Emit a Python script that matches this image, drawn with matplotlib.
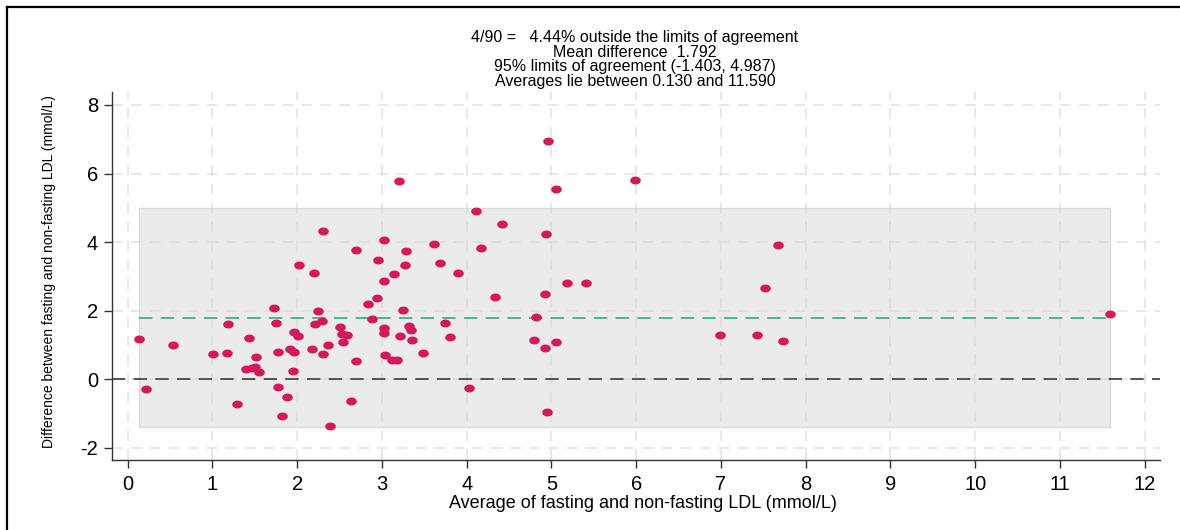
import numpy as np
import matplotlib
matplotlib.use('Agg')
import matplotlib.pyplot as plt
from matplotlib.path import Path
from matplotlib.lines import Line2D
from matplotlib.patches import Rectangle

# Bland-Altman data: average and difference of fasting / non-fasting LDL (mmol/L)
avg_ldl = [0.13, 0.22, 0.53, 1.01, 1.17, 1.18, 1.29, 1.43, 1.51, 1.40,
           1.47, 1.50, 1.55, 1.73, 1.75, 1.77, 1.77, 1.88, 1.82, 2.02,
           2.20, 2.25, 2.21, 2.29, 1.96, 2.01, 1.92, 1.96, 1.95, 2.17,
           2.30, 2.37, 2.51, 2.53, 2.59, 2.54, 2.39, 2.63, 3.20, 2.31,
           3.02, 2.69, 3.29, 3.61, 2.96, 3.27, 3.68, 3.14, 3.02, 2.94,
           2.84, 3.25, 2.88, 3.74, 3.02, 3.02, 3.32, 3.34, 3.21, 3.35,
           3.80, 3.48, 3.04, 3.12, 3.18, 2.69, 4.96, 5.99, 5.06, 4.11,
           4.42, 4.94, 4.17, 3.90, 5.18, 5.41, 4.34, 4.93, 4.82, 4.79,
           4.93, 5.06, 4.03, 4.95, 7.67, 7.52, 6.99, 7.43, 7.73, 11.59]
diff_ldl = [1.17, -0.28, 1.00, 0.74, 0.76, 1.60, -0.72, 1.20, 0.66, 0.31,
            0.32, 0.35, 0.21, 2.08, 1.65, 0.78, -0.22, -0.53, -1.07, 3.32,
            3.09, 1.99, 1.60, 1.71, 1.38, 1.27, 0.88, 0.80, 0.24, 0.88,
            0.73, 0.99, 1.52, 1.31, 1.29, 1.09, -1.37, -0.63, 5.79, 4.32,
            4.07, 3.77, 3.74, 3.95, 3.48, 3.33, 3.39, 3.08, 2.87, 2.38,
            2.19, 2.01, 1.76, 1.65, 1.49, 1.36, 1.54, 1.42, 1.26, 1.15,
            1.22, 0.77, 0.70, 0.56, 0.56, 0.54, 6.96, 5.80, 5.55, 4.91,
            4.53, 4.24, 3.83, 3.11, 2.80, 2.81, 2.41, 2.49, 1.82, 1.15,
            0.92, 1.08, -0.25, -0.95, 3.90, 2.66, 1.30, 1.30, 1.11, 1.89]

mean_diff = 1.792
loa_low, loa_high = -1.403, 4.987
avg_min, avg_max = 0.130, 11.590
n_outside, n_total = 4, 90

x_ticks = list(range(0, 13))
y_ticks = [-2, 0, 2, 4, 6, 8]

title_lines = [
    f"{n_outside}/{n_total} =   {100 * n_outside / n_total:.2f}% outside the limits of agreement",
    f"Mean difference  {mean_diff:.3f}",
    f"95% limits of agreement ({loa_low:.3f}, {loa_high:.3f})",
    f"Averages lie between {avg_min:.3f} and {avg_max:.3f}",
]

plt.rcParams['font.family'] = ['Liberation Sans', 'DejaVu Sans']
plt.rcParams['axes.unicode_minus'] = False

fig = plt.figure(figsize=(11.8, 5.3), dpi=100)
ax = fig.add_axes([112 / 1180, 70 / 530, 1048 / 1180, 367.7 / 530])

# slightly flattened dots, like the stretched Stata export
t = np.linspace(0, 2 * np.pi, 60)
dot = Path(np.column_stack([np.cos(t), 0.75 * np.sin(t)]))

# shaded limits-of-agreement box spanning the observed averages
ax.add_patch(Rectangle((avg_min, loa_low), avg_max - avg_min, loa_high - loa_low,
                       facecolor='#ebebeb', edgecolor='#dadada', lw=1, zorder=0.2))

ax.grid(True, color='#d6d6d6', alpha=0.6, lw=1.3, linestyle=(0, (6, 4.5)))
ax.set_axisbelow(True)

ax.axhline(0, color='#3a3a3a', lw=1.2, dashes=(8, 5), zorder=2)
ax.plot([avg_min, avg_max], [mean_diff, mean_diff], color='#26b084', lw=1.2,
        dashes=(8, 5), zorder=2)

ax.scatter(avg_ldl, diff_ldl, marker=dot, s=58, color='#d6175c', lw=0, zorder=3)

ax.set_xlim(-0.184, 12.18)
ax.set_ylim(-2.36, 8.37)
ax.set_xticks(x_ticks)
ax.set_yticks(y_ticks)
ax.tick_params(axis='both', labelsize=14.5, length=6, width=1, color='#333333')
ax.tick_params(axis='x', pad=5)
ax.tick_params(axis='y', pad=4)

for side in ['top', 'right']:
    ax.spines[side].set_visible(False)
for side in ['left', 'bottom']:
    ax.spines[side].set_color('#333333')
    ax.spines[side].set_linewidth(1)

ax.set_xlabel('Average of fasting and non-fasting LDL (mmol/L)', fontsize=13)
ax.xaxis.set_label_coords(0.507, -0.095)
ax.set_ylabel('Difference between fasting and non-fasting LDL (mmol/L)', fontsize=10)
ax.yaxis.set_label_coords(-0.053, 0.513)

fig.text(635 / 1180, 1 - 59.5 / 530, '\n'.join(title_lines), ha='center', va='center',
         fontsize=11.5, linespacing=0.98)

# outer frame (left and top edges visible in the export)
fig.add_artist(Line2D([7 / 1180, 7 / 1180], [0, 1 - 7 / 530], color='black', lw=1.6,
                      transform=fig.transFigure))
fig.add_artist(Line2D([7 / 1180, 1], [1 - 7 / 530, 1 - 7 / 530], color='black', lw=1.6,
                      transform=fig.transFigure))

fig.savefig('out.png', dpi=100)
